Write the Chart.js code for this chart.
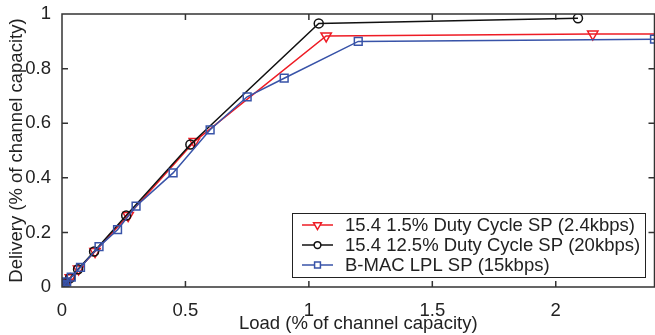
<!DOCTYPE html>
<html>
<head>
<meta charset="utf-8">
<script src="https://cdn.jsdelivr.net/npm/chart.js@4/dist/chart.umd.min.js"></script>
<style>
  html, body { margin: 0; padding: 0; background: #fff; overflow: hidden; }
  #wrap { width: 655px; height: 335px; overflow: hidden; }
</style>
</head>
<body>
<div id="wrap"><canvas id="chart" width="662" height="335"></canvas></div>
<script>
const xTicks = [0, 0.5, 1, 1.5, 2];
const yTicks = [0, 0.2, 0.4, 0.6, 0.8, 1];

// 15.4 1.5% duty cycle
const redLoad = [0, 0.004, 0.008, 0.017, 0.034, 0.067, 0.134, 0.268, 0.536, 1.07, 2.15, 4.3];
const redDelivery = [0, 0.004, 0.008, 0.017, 0.034, 0.066, 0.13, 0.262, 0.533, 0.92, 0.927, 0.93];

// 15.4 12.5% duty cycle
const blackLoad = [0, 0.004, 0.008, 0.016, 0.033, 0.065, 0.13, 0.26, 0.52, 1.04, 2.09];
const blackDelivery = [0, 0.004, 0.008, 0.016, 0.033, 0.065, 0.13, 0.262, 0.522, 0.966, 0.985];

// B-MAC LPL
const blueLoad = [0, 0.005, 0.01, 0.019, 0.0375, 0.075, 0.15, 0.225, 0.3, 0.45, 0.6, 0.75, 0.9, 1.2, 2.4];
const blueDelivery = [0, 0.005, 0.01, 0.019, 0.036, 0.072, 0.148, 0.21, 0.296, 0.418, 0.576, 0.697, 0.765, 0.9, 0.908];

const labels = [
  '15.4 1.5% Duty Cycle SP (2.4kbps)',
  '15.4 12.5% Duty Cycle SP (20kbps)',
  'B-MAC LPL SP (15kbps)',
];

const RED = '#ee1c25';
const BLACK = '#111111';
const BLUE = '#3853a8';
const FONT = '"Liberation Sans", Arial, Helvetica, sans-serif';
const FS = 18.5;

const toPoints = (xs, ys) => xs.map((x, i) => ({ x: x, y: ys[i] }));

// matlab-like box with inward ticks
const boxAxes = {
  id: 'boxAxes',
  afterDatasetsDraw(chart) {
    const { ctx, chartArea: a, scales } = chart;
    const len = 6;
    ctx.save();
    ctx.strokeStyle = '#333';
    ctx.lineWidth = 1.5;
    ctx.beginPath();
    ctx.rect(a.left, a.top, a.right - a.left, a.bottom - a.top);
    xTicks.forEach((v) => {
      const px = scales.x.getPixelForValue(v);
      ctx.moveTo(px, a.bottom); ctx.lineTo(px, a.bottom - len);
      ctx.moveTo(px, a.top); ctx.lineTo(px, a.top + len);
    });
    yTicks.forEach((v) => {
      const py = scales.y.getPixelForValue(v);
      ctx.moveTo(a.left, py); ctx.lineTo(a.left + len, py);
      ctx.moveTo(a.right, py); ctx.lineTo(a.right - len, py);
    });
    ctx.stroke();
    ctx.restore();
  },
};

// legend box inside the plot, lower right
const boxLegend = {
  id: 'boxLegend',
  afterDraw(chart) {
    const { ctx } = chart;
    const x0 = 292, y0 = 213, w = 353, h = 64;
    ctx.save();
    ctx.fillStyle = '#fff';
    ctx.fillRect(x0, y0, w, h);
    ctx.strokeStyle = '#222';
    ctx.lineWidth = 1;
    ctx.strokeRect(x0 + 0.5, y0 + 0.5, w, h);
    ctx.font = FS + 'px ' + FONT;
    ctx.textBaseline = 'middle';
    chart.data.datasets.forEach((ds, i) => {
      const cy = y0 + 12 + i * 20;
      ctx.strokeStyle = ds.borderColor;
      ctx.lineWidth = 1.5;
      ctx.beginPath();
      ctx.moveTo(x0 + 10, cy); ctx.lineTo(x0 + 41, cy);
      ctx.stroke();
      ctx.fillStyle = '#fff';
      Chart.helpers.drawPoint(ctx, {
        pointStyle: ds.pointStyle,
        radius: ds.pointRadius * 0.75,
        rotation: ds.pointRotation || 0,
        borderWidth: 1.5,
      }, x0 + 25.5, cy);
      ctx.fillStyle = '#222';
      ctx.fillText(ds.label, x0 + 53, cy + 1);
    });
    ctx.restore();
  },
};

const baseSet = {
  showLine: true,
  borderWidth: 1.5,
  pointBorderWidth: 1.5,
  pointBackgroundColor: 'rgba(0,0,0,0)',
  tension: 0,
};

new Chart(document.getElementById('chart'), {
  type: 'scatter',
  data: {
    datasets: [
      Object.assign({}, baseSet, {
        label: labels[0],
        data: toPoints(redLoad, redDelivery),
        borderColor: RED,
        pointBorderColor: RED,
        pointStyle: 'triangle',
        pointRotation: 180,
        pointRadius: 6,
        order: 2,
      }),
      Object.assign({}, baseSet, {
        label: labels[1],
        data: toPoints(blackLoad, blackDelivery),
        borderColor: BLACK,
        pointBorderColor: BLACK,
        pointStyle: 'circle',
        pointRadius: 4.5,
        order: 1,
      }),
      Object.assign({}, baseSet, {
        label: labels[2],
        data: toPoints(blueLoad, blueDelivery),
        borderColor: BLUE,
        pointBorderColor: BLUE,
        pointStyle: 'rect',
        pointRadius: 5.5,
        order: 0,
      }),
    ],
  },
  options: {
    responsive: false,
    animation: false,
    devicePixelRatio: 1,
    layout: { padding: { top: 14, right: 5, left: 0, bottom: 0 } },
    plugins: {
      legend: { display: false },
      tooltip: { enabled: false },
    },
    scales: {
      x: {
        type: 'linear',
        min: 0,
        max: 2.4,
        grid: { display: false },
        border: { display: false },
        afterFit: (scale) => { scale.height = 48; },
        afterBuildTicks: (scale) => { scale.ticks = xTicks.map((v) => ({ value: v })); },
        ticks: {
          padding: 5,
          color: '#222',
          maxRotation: 0,
          callback: (v) => String(v),
          font: { size: FS, family: FONT },
        },
        title: {
          display: true,
          text: 'Load (% of channel capacity)',
          color: '#222',
          padding: { top: 0, bottom: 0 },
          font: { size: FS, family: FONT },
        },
      },
      y: {
        type: 'linear',
        min: 0,
        max: 1,
        grid: { display: false },
        border: { display: false },
        afterFit: (scale) => { scale.width = 62; },
        afterBuildTicks: (scale) => { scale.ticks = yTicks.map((v) => ({ value: v })); },
        ticks: {
          padding: 3,
          color: '#222',
          callback: (v) => String(v),
          font: { size: FS, family: FONT },
        },
        title: {
          display: true,
          text: 'Delivery (% of channel capacity)',
          color: '#222',
          padding: { top: 6, bottom: 0 },
          font: { size: FS, family: FONT },
        },
      },
    },
  },
  plugins: [boxAxes, boxLegend],
});
</script>
</body>
</html>
